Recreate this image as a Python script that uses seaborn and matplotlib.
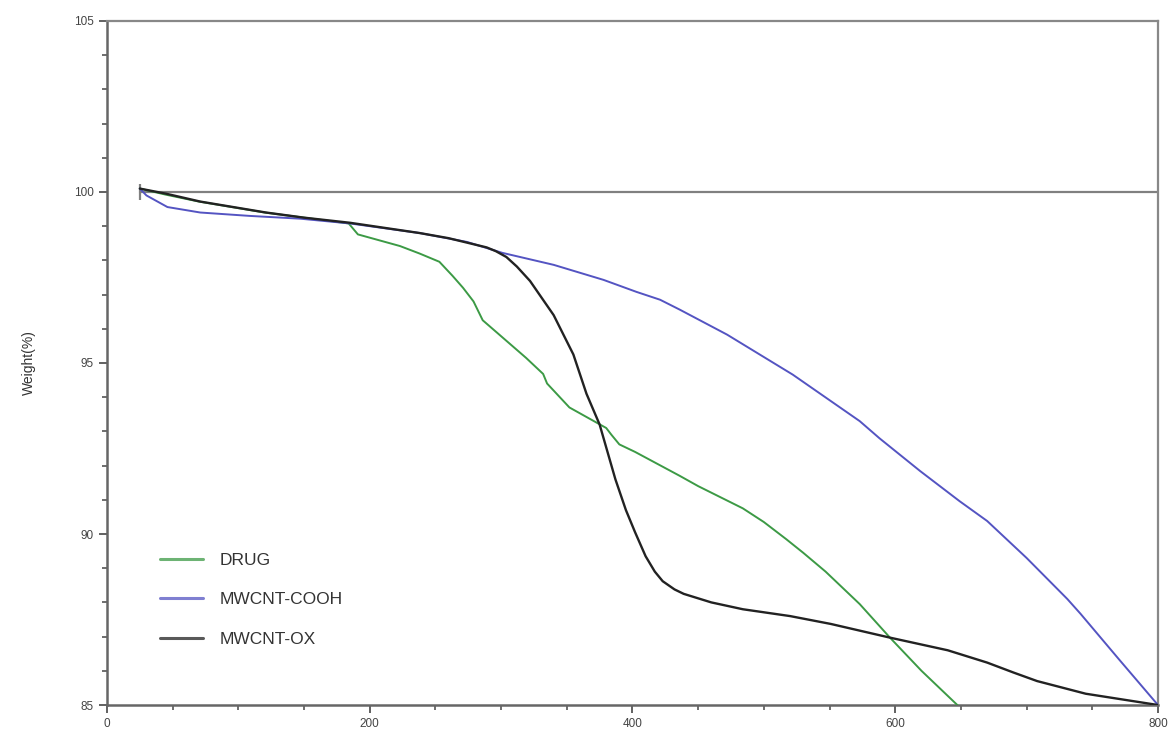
import pandas as pd
import matplotlib.pyplot as plt
import seaborn as sns
from matplotlib.ticker import MultipleLocator

# TGA curves (temperature, weight %)
drug_t = [25, 45, 70, 120, 150, 184, 191, 223, 238, 253, 263, 271, 279, 286, 301, 319, 332, 335,
          352, 373, 380, 384, 390, 402, 436, 450, 484, 500, 517, 530, 547, 573, 596, 620, 650]
drug_w = [100.1, 99.92, 99.72, 99.4, 99.25, 99.08, 98.76, 98.42, 98.2, 97.96, 97.55, 97.2, 96.8,
          96.25, 95.75, 95.15, 94.68, 94.4, 93.7, 93.25, 93.1, 92.9, 92.62, 92.4, 91.7, 91.4,
          90.75, 90.35, 89.85, 89.45, 88.9, 87.95, 86.97, 86.0, 84.9]

cooh_t = [25, 30, 46, 71, 109, 147, 185, 238, 274, 301, 340, 378, 403, 421, 436, 472, 522, 573,
          588, 619, 649, 670, 700, 731, 741, 770, 800]
cooh_w = [100.1, 99.9, 99.56, 99.4, 99.3, 99.22, 99.08, 98.8, 98.54, 98.22, 97.87, 97.43, 97.08,
          96.85, 96.56, 95.83, 94.66, 93.3, 92.8, 91.84, 90.96, 90.38, 89.3, 88.1, 87.67, 86.35, 85.0]

ox_t = [25, 45, 71, 121, 150, 185, 238, 260, 289, 296, 304, 312, 322, 340, 355, 365, 375, 387,
        395, 402, 410, 417, 423, 432, 439, 460, 484, 520, 551, 596, 640, 670, 690, 708, 745, 800]
ox_w = [100.1, 99.95, 99.72, 99.4, 99.25, 99.1, 98.8, 98.65, 98.38, 98.27, 98.1, 97.82, 97.4,
        96.4, 95.25, 94.1, 93.2, 91.6, 90.7, 90.05, 89.35, 88.9, 88.62, 88.38, 88.25, 88.0, 87.8,
        87.6, 87.37, 86.97, 86.6, 86.24, 85.95, 85.7, 85.33, 85.0]

samples = ['DRUG', 'MWCNT-COOH', 'MWCNT-OX']
colors = ['#3c9a45', '#5454c2', '#222222']

base_t = [25, 800]
base_w = [100, 100]

df = pd.concat([
    pd.DataFrame({'Temperature': drug_t, 'Weight': drug_w, 'Sample': samples[0]}),
    pd.DataFrame({'Temperature': cooh_t, 'Weight': cooh_w, 'Sample': samples[1]}),
    pd.DataFrame({'Temperature': ox_t, 'Weight': ox_w, 'Sample': samples[2]}),
])

sns.set_style('ticks')
plt.rcParams['font.family'] = ['Liberation Sans', 'DejaVu Sans']

fig = plt.figure(figsize=(11.68, 7.34), dpi=100)
ax = fig.add_axes([0.0916, 0.0395, 0.8998, 0.9319])

# baseline at 100 %
ax.plot(base_t, base_w, color='#808080', lw=1.6, zorder=1)
ax.plot(base_t[:1], base_w[:1], marker='|', markersize=12, mew=1.6, color='#808080', zorder=1)

sns.lineplot(data=df, x='Temperature', y='Weight', hue='Sample', palette=dict(zip(samples, colors)),
             estimator=None, ax=ax, legend=False, zorder=3)
for line, lw in zip(ax.lines[2:], [1.4, 1.4, 1.7]):
    line.set_linewidth(lw)

ax.set_xlim(0, 800)
ax.set_ylim(85, 105)
ax.xaxis.set_major_locator(MultipleLocator(200))
ax.xaxis.set_minor_locator(MultipleLocator(50))
ax.yaxis.set_major_locator(MultipleLocator(5))
ax.yaxis.set_minor_locator(MultipleLocator(1))
ax.tick_params(which='major', length=6, width=1.3, color='#555555', labelsize=8.5,
               labelcolor='#444444', direction='out')
ax.tick_params(which='minor', length=3.5, width=1.2, color='#555555', direction='out')

for side in ['left', 'bottom']:
    ax.spines[side].set_color('#666666')
    ax.spines[side].set_linewidth(1.8)
for side in ['top', 'right']:
    ax.spines[side].set_color('#888888')
    ax.spines[side].set_linewidth(1.6)

ax.set_xlabel('')
ax.set_ylabel('Weight(%)', fontsize=10, color='#333333', labelpad=27)

handles = [plt.Line2D([], [], color=c, lw=2.2) for c in colors]
leg = ax.legend(handles, samples, loc='upper left', bbox_to_anchor=(0.0504, 0.223), frameon=False,
                fontsize=12.5, handlelength=2.5, handletextpad=0.95, labelspacing=1.42,
                borderpad=0, borderaxespad=0)
for t in leg.get_texts():
    t.set_color('#333333')
for h in leg.get_lines():
    h.set_alpha(0.75)

fig.savefig('out.png', dpi=100)
